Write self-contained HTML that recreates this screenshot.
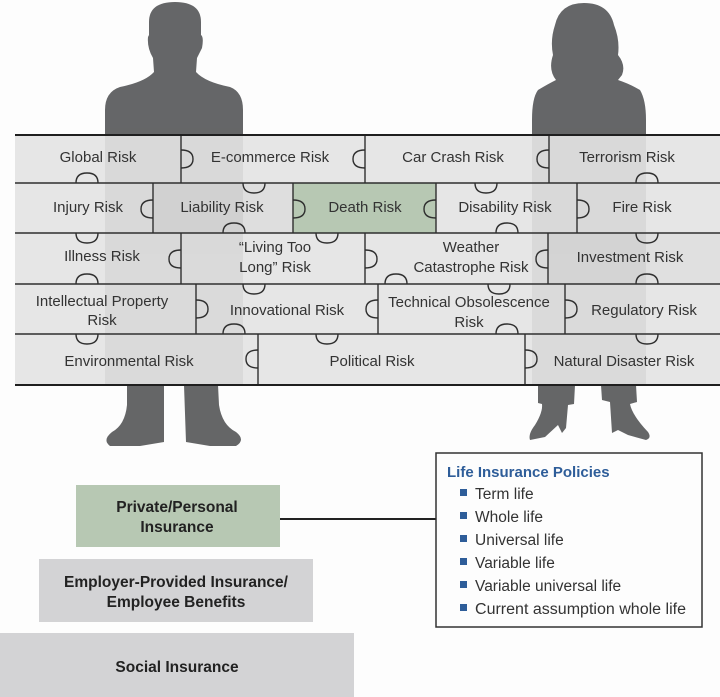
<!DOCTYPE html>
<html><head><meta charset="utf-8"><style>
html,body{margin:0;padding:0;background:#fdfdfd;}
svg{display:block;font-family:"Liberation Sans",sans-serif;}
</style></head><body>
<svg width="720" height="697" viewBox="0 0 720 697">
<defs>
<g id="man">
<path d="M149,22 Q149,2 175,2 Q201,2 201,22 L201,35 Q204,37 202,48 L197,58 L196,72 Q205,82 230,87 Q243,92 243,110 L243,135 L105,135 L105,110 Q105,92 120,87 Q145,82 154,72 L153,58 Q147,48 148,37 L149,35 Z"/>
<rect x="105" y="135" width="138" height="250"/>
<path d="M127,385 L164,385 L164,442 L140,446 L110,446 Q102,440 112,432 Q125,425 127,405 Z"/>
<path d="M184,385 L218,385 L219,405 Q222,425 236,432 Q246,440 236,446 L210,446 L186,442 Z"/>
</g>
<g id="woman">
<path d="M555,25 Q560,3 584,3 Q609,3 614,25 Q620,40 618,55 Q626,65 622,75 L618,80 Q630,84 640,90 Q646,100 646,120 L646,135 L532,135 L532,120 Q532,98 538,90 Q548,84 556,80 Q548,70 553,55 Q550,40 555,25 Z"/>
<rect x="532" y="135" width="114" height="250"/>
<path d="M538,385 L575,385 L574,404 L568,405 L566,428 L562,433 L558,425 L545,437 L530,440 Q528,434 535,425 Q543,412 542,404 L538,403 Z"/>
<path d="M601,385 L636,385 L637,402 L630,404 Q632,415 648,432 Q652,438 646,440 L628,435 L618,430 L612,433 L610,402 L602,400 Z"/>
</g>
</defs>
<use href="#man" fill="#6b6c6e"/>
<use href="#woman" fill="#6b6c6e"/>
<rect x="15" y="135" width="705" height="250" fill="#e6e6e6"/>
<rect x="153" y="183" width="140" height="50" fill="#dedede"/>
<rect x="548" y="233" width="172" height="51" fill="#e0e0e0"/>
<rect x="293" y="183" width="143" height="50" fill="#b7c8b3"/>
<g opacity="0.05"><use href="#man" fill="#000"/><use href="#woman" fill="#000"/></g>
<g stroke="#2f2f2f" stroke-width="1.4" fill="none">
<line x1="15" y1="183" x2="720" y2="183"/>
<line x1="15" y1="233" x2="720" y2="233"/>
<line x1="15" y1="284" x2="720" y2="284"/>
<line x1="15" y1="334" x2="720" y2="334"/>
<line x1="181" y1="135" x2="181" y2="183"/><line x1="365" y1="135" x2="365" y2="183"/><line x1="549" y1="135" x2="549" y2="183"/>
<line x1="153" y1="183" x2="153" y2="233"/><line x1="293" y1="183" x2="293" y2="233"/><line x1="436" y1="183" x2="436" y2="233"/><line x1="577" y1="183" x2="577" y2="233"/>
<line x1="181" y1="233" x2="181" y2="284"/><line x1="365" y1="233" x2="365" y2="284"/><line x1="548" y1="233" x2="548" y2="284"/>
<line x1="196" y1="284" x2="196" y2="334"/><line x1="378" y1="284" x2="378" y2="334"/><line x1="565" y1="284" x2="565" y2="334"/>
<line x1="258" y1="334" x2="258" y2="385"/><line x1="525" y1="334" x2="525" y2="385"/>
<path d="M181,150 q12,0 12,9 q0,9 -12,9"/><path d="M365,150 q-12,0 -12,9 q0,9 12,9"/><path d="M549,150 q-12,0 -12,9 q0,9 12,9"/>
<path d="M76,183 q0,-10 11,-10 q11,0 11,10"/><path d="M243,183 q0,10 11,10 q11,0 11,-10"/><path d="M475,183 q0,10 11,10 q11,0 11,-10"/><path d="M636,183 q0,-10 11,-10 q11,0 11,10"/>
<path d="M153,200 q-12,0 -12,9 q0,9 12,9"/><path d="M293,200 q12,0 12,9 q0,9 -12,9"/><path d="M436,200 q-12,0 -12,9 q0,9 12,9"/><path d="M577,200 q12,0 12,9 q0,9 -12,9"/>
<path d="M76,233 q0,10 11,10 q11,0 11,-10"/><path d="M223,233 q0,-10 11,-10 q11,0 11,10"/><path d="M316,233 q0,10 11,10 q11,0 11,-10"/><path d="M496,233 q0,-10 11,-10 q11,0 11,10"/><path d="M636,233 q0,10 11,10 q11,0 11,-10"/>
<path d="M181,250 q-12,0 -12,9 q0,9 12,9"/><path d="M365,250 q12,0 12,9 q0,9 -12,9"/><path d="M548,250 q-12,0 -12,9 q0,9 12,9"/>
<path d="M76,284 q0,-10 11,-10 q11,0 11,10"/><path d="M243,284 q0,10 11,10 q11,0 11,-10"/><path d="M385,284 q0,-10 11,-10 q11,0 11,10"/><path d="M488,284 q0,10 11,10 q11,0 11,-10"/><path d="M636,284 q0,-10 11,-10 q11,0 11,10"/>
<path d="M196,300 q12,0 12,9 q0,9 -12,9"/><path d="M378,300 q-12,0 -12,9 q0,9 12,9"/><path d="M565,300 q12,0 12,9 q0,9 -12,9"/>
<path d="M76,334 q0,10 11,10 q11,0 11,-10"/><path d="M223,334 q0,-10 11,-10 q11,0 11,10"/><path d="M316,334 q0,10 11,10 q11,0 11,-10"/><path d="M496,334 q0,-10 11,-10 q11,0 11,10"/><path d="M636,334 q0,10 11,10 q11,0 11,-10"/>
<path d="M258,350 q-12,0 -12,9 q0,9 12,9"/><path d="M525,350 q12,0 12,9 q0,9 -12,9"/>
</g>
<line x1="15" y1="135" x2="720" y2="135" stroke="#1f1f1f" stroke-width="2"/>
<line x1="15" y1="385" x2="720" y2="385" stroke="#1f1f1f" stroke-width="2"/>
<g font-size="15" fill="#333" text-anchor="middle">
<text x="98" y="162">Global Risk</text><text x="270" y="162">E-commerce Risk</text><text x="453" y="162">Car Crash Risk</text><text x="627" y="162">Terrorism Risk</text>
<text x="88" y="212">Injury Risk</text><text x="222" y="212">Liability Risk</text><text x="365" y="212">Death Risk</text><text x="505" y="212">Disability Risk</text><text x="642" y="212">Fire Risk</text>
<text x="102" y="261">Illness Risk</text><text x="275" y="252">“Living Too</text><text x="275" y="272">Long” Risk</text><text x="471" y="252">Weather</text><text x="471" y="272">Catastrophe Risk</text><text x="630" y="262">Investment Risk</text>
<text x="102" y="306">Intellectual Property</text><text x="102" y="325">Risk</text><text x="287" y="315">Innovational Risk</text><text x="469" y="307">Technical Obsolescence</text><text x="469" y="327">Risk</text><text x="644" y="315">Regulatory Risk</text>
<text x="129" y="366">Environmental Risk</text><text x="372" y="366">Political Risk</text><text x="624" y="366">Natural Disaster Risk</text>
</g>
<rect x="76" y="485" width="204" height="62" fill="#b7c8b3"/>
<rect x="39" y="559" width="274" height="63" fill="#d3d3d5"/>
<rect x="0" y="633" width="354" height="64" fill="#d3d3d5"/>
<line x1="280" y1="519" x2="436" y2="519" stroke="#222" stroke-width="2"/>
<g font-size="15.5" font-weight="bold" fill="#222" text-anchor="middle">
<text x="177" y="512">Private/Personal</text><text x="177" y="532">Insurance</text>
<text x="176" y="587">Employer-Provided Insurance/</text><text x="176" y="607">Employee Benefits</text>
<text x="177" y="672">Social Insurance</text>
</g>
<rect x="436" y="453" width="266" height="174" fill="#fdfdfd" stroke="#333" stroke-width="1.5"/>
<text x="447" y="477" font-size="15" font-weight="bold" fill="#2e5d99">Life Insurance Policies</text>
<g font-size="15.5" fill="#333">
<rect x="460" y="489" width="7" height="7" fill="#2e5d99"/><text x="475" y="499">Term life</text>
<rect x="460" y="512" width="7" height="7" fill="#2e5d99"/><text x="475" y="522">Whole life</text>
<rect x="460" y="535" width="7" height="7" fill="#2e5d99"/><text x="475" y="545">Universal life</text>
<rect x="460" y="558" width="7" height="7" fill="#2e5d99"/><text x="475" y="568">Variable life</text>
<rect x="460" y="581" width="7" height="7" fill="#2e5d99"/><text x="475" y="591">Variable universal life</text>
<rect x="460" y="604" width="7" height="7" fill="#2e5d99"/><text x="475" y="614" textLength="211" lengthAdjust="spacingAndGlyphs">Current assumption whole life</text>
</g>
</svg>
</body></html>
